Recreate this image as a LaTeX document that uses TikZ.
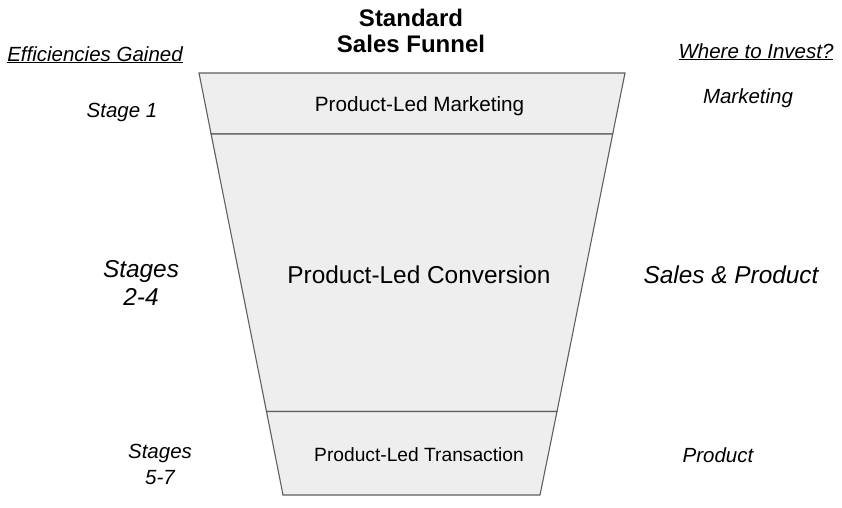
\documentclass[tikz,border=0pt]{standalone}
\usepackage{fontspec}
\setmainfont{Liberation Sans}
\definecolor{funfill}{HTML}{EEEEEE}
\definecolor{funline}{HTML}{5F5F5F}
\tikzset{
  lbl/.style={anchor=base, inner sep=0pt, text=black, font=\fontsize{20.5}{24}\selectfont\itshape},
  biglbl/.style={anchor=base, inner sep=0pt, text=black, font=\fontsize{24.4}{28}\selectfont\itshape},
  stagetxt/.style={anchor=base, inner sep=0pt, text=black, font=\fontsize{20}{24}\selectfont},
  bigstage/.style={anchor=base, inner sep=0pt, text=black, font=\fontsize{24.4}{28}\selectfont},
  titletxt/.style={anchor=base, inner sep=0pt, text=black, font=\fontsize{24}{28}\bfseries\selectfont},
  funnelpart/.style={fill=funfill, draw=funline, line width=1.1pt, line join=miter}
}
\begin{document}
\begin{tikzpicture}[x=1pt,y=-1pt]
\useasboundingbox (0,0) rectangle (842,507);
% funnel
\coordinate (tl) at (199,73);
\coordinate (tr) at (625,73);
\coordinate (bl) at (283,495);
\coordinate (br) at (540,495);
\coordinate (m1l) at (211.1,134);
\coordinate (m1r) at (612.7,134);
\coordinate (m2l) at (266.5,411.5);
\coordinate (m2r) at (557.0,411.5);
\filldraw[funnelpart] (tl) -- (tr) -- (m1r) -- (m1l) -- cycle;
\filldraw[funnelpart] (m1l) -- (m1r) -- (m2r) -- (m2l) -- cycle;
\filldraw[funnelpart] (m2l) -- (m2r) -- (br) -- (bl) -- cycle;
% title
\node[titletxt] (t1) at (411,26) {Standard};
\node[titletxt] (t2) at (411,52) {Sales Funnel};
% headers
\node[lbl] (eg) at (95,61) {\underline{Efficiencies Gained}};
\node[lbl] (wi) at (756,58) {\underline{Where to Invest?}};
% left
\node[lbl] (s1) at (122,117) {Stage 1};
\node[biglbl] (s2a) at (141,277) {Stages};
\node[biglbl] (s2b) at (141,305) {2-4};
\node[lbl] (s5a) at (160,458) {Stages};
\node[lbl] (s5b) at (160,484) {5-7};
% center
\node[stagetxt, font=\fontsize{20.7}{24}\selectfont] (plm) at (419.5,111) {Product-Led Marketing};
\node[bigstage] (plc) at (419,283) {Product-Led Conversion};
\node[stagetxt, font=\fontsize{19.2}{23}\selectfont] (plt) at (419,461) {Product-Led Transaction};
% right
\node[lbl] (rm) at (748,103) {Marketing};
\node[biglbl] (rsp) at (731,283) {Sales \& Product};
\node[lbl] (rp) at (718,462) {Product};
\end{tikzpicture}
\end{document}
